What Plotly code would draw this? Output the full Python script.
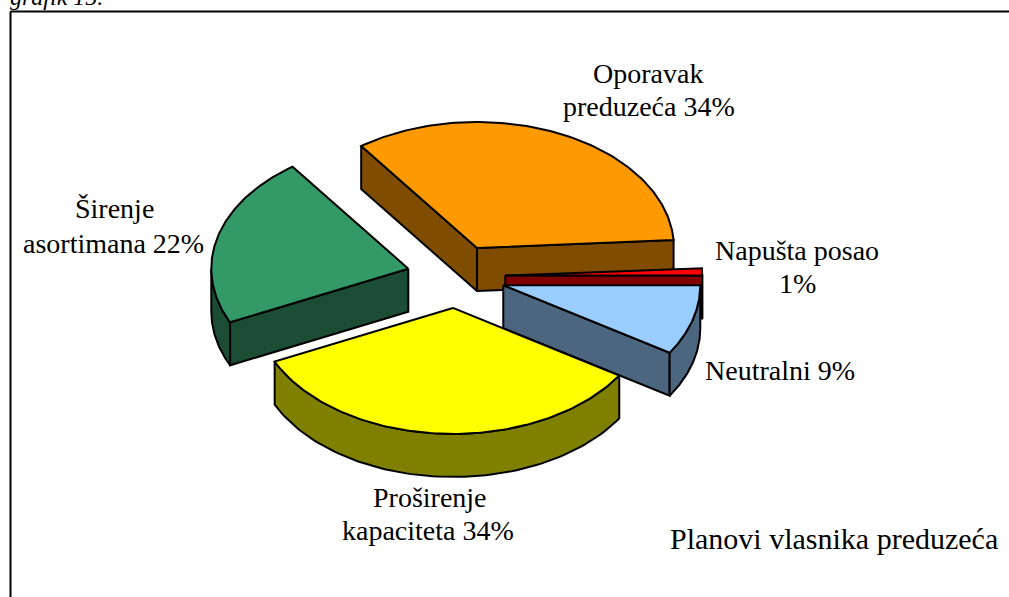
import numpy as np
import plotly.graph_objects as go

label_lines = ["Oporavak", "preduzeća 34%", "Napušta posao", "1%", "Neutralni 9%", "Proširenje", "kapaciteta 34%", "Širenje", "asortimana 22%"]
label_x = [648, 648.5, 796.5, 797, 780, 430, 427.5, 114, 113.5]
label_y = [73, 106, 250, 283, 370, 497, 530, 208, 243]
values = [34, 1, 9, 34, 22]
top_colors = ["#FF9900", "#FF0000", "#99CCFF", "#FFFF00", "#339966"]
side_colors = ["#804D00", "#800000", "#4D6680", "#808000", "#1A4D33"]
draw_order = [0, 4, 1, 2, 3]

CX, CY, A, B, DEPTH, PULL, START = 456, 276.5, 197, 126, 43, 0.25, 126.0
FONT = "Liberation Serif"
LINE = dict(color="black", width=2)

fig = go.Figure()


def poly(xs, ys, color):
    fig.add_trace(go.Scatter(x=list(xs) + [xs[0]], y=list(ys) + [ys[0]], mode="lines", fill="toself",
                             fillcolor=color, line=LINE, hoverinfo="skip", showlegend=False))


total = sum(values)
edges = [START]
for v in values:
    edges.append(edges[-1] - 360.0 * v / total)

for i in draw_order:
    t0, t1 = edges[i], edges[i + 1]
    mid = np.radians((t0 + t1) / 2)
    ax = CX + PULL * A * np.cos(mid)
    ay = CY - PULL * B * np.sin(mid)
    rx = lambda deg: ax + A * np.cos(np.radians(deg))
    ry = lambda deg: ay - B * np.sin(np.radians(deg))
    # radial walls facing the viewer
    for t, vis in ((t0, np.cos(np.radians(t0)) < 0), (t1, np.cos(np.radians(t1)) > 0)):
        if vis:
            poly([ax, rx(t), rx(t), ax], [ay, ry(t), ry(t) + DEPTH, ay + DEPTH], side_colors[i])
    # outer rim: portion in the front half (sin < 0)
    arc = np.linspace(t0, t1, 121)
    k = np.floor((t0 + 180) / 360.0)
    lo = max(t1, -180 + 360 * k)
    hi = min(t0, 360 * k)
    if hi > lo:
        rim = np.linspace(hi, lo, 80)
        xs = [rx(d) for d in rim]
        ys = [ry(d) for d in rim]
        poly(xs + xs[::-1], ys + [y + DEPTH for y in ys[::-1]], side_colors[i])
    poly([ax] + [rx(d) for d in arc], [ay] + [ry(d) for d in arc], top_colors[i])

annotations = [dict(x=x, y=y, text=t, showarrow=False, xanchor="center", yanchor="middle",
                    font=dict(family=FONT, size=28, color="black"))
               for t, x, y in zip(label_lines, label_x, label_y)]
annotations.append(dict(x=834, y=538, text="Planovi vlasnika preduzeća", showarrow=False,
                        xanchor="center", yanchor="middle",
                        font=dict(family=FONT, size=30, color="black")))
annotations.append(dict(x=8, y=0, yshift=3, text="<i>grafik 15.</i>", showarrow=False, xanchor="left", yanchor="middle",
                        font=dict(family=FONT, size=24, color="black")))

fig.update_layout(
    width=1009, height=597, margin=dict(l=0, r=0, t=0, b=0),
    paper_bgcolor="white", plot_bgcolor="white", showlegend=False,
    xaxis=dict(range=[0, 1009], visible=False, fixedrange=True),
    yaxis=dict(range=[597, 0], visible=False, fixedrange=True),
    annotations=annotations,
    shapes=[dict(type="line", x0=10.5, x1=1009, y0=11.5, y1=11.5, line=dict(color="black", width=2), layer="above"),
            dict(type="line", x0=10.5, x1=10.5, y0=11.5, y1=597, line=dict(color="black", width=2), layer="above")],
)
fig.write_html("out.html", config={"displayModeBar": False},
               post_script="document.body.style.margin='0';document.body.style.overflow='hidden';")
